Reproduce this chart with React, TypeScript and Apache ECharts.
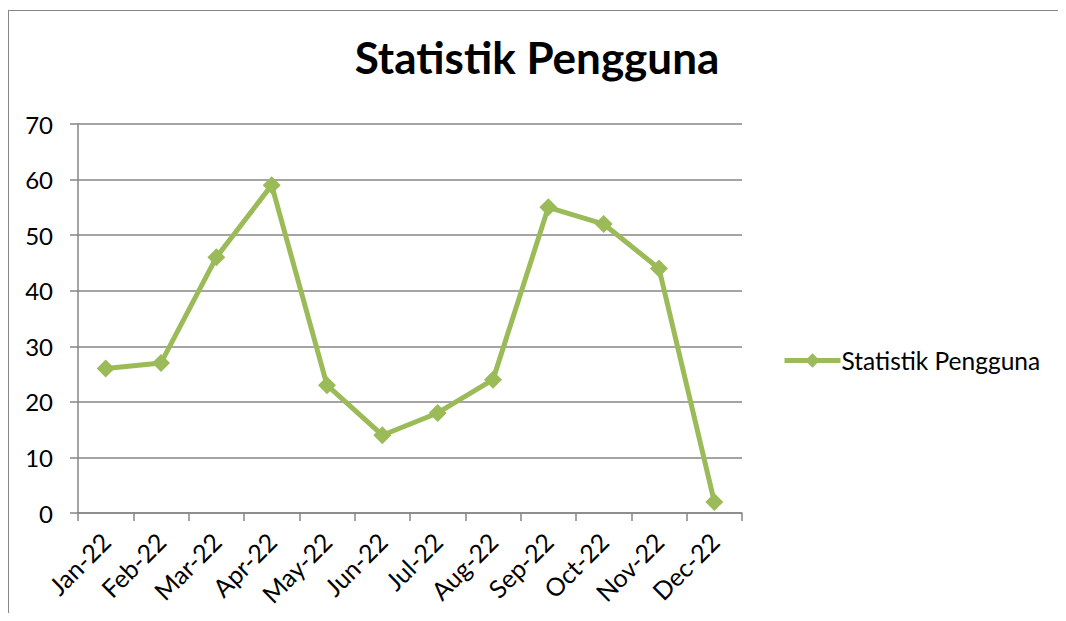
import React, { useEffect, useRef } from "react";
import * as echarts from "echarts";

const categories = ["Jan-22", "Feb-22", "Mar-22", "Apr-22", "May-22", "Jun-22", "Jul-22", "Aug-22", "Sep-22", "Oct-22", "Nov-22", "Dec-22"];
const values = [26, 27, 46, 59, 23, 14, 18, 24, 55, 52, 44, 2];
const seriesName = "Statistik Pengguna";
const titleText = "Statistik Pengguna";

const FONT = "Lato, 'Open Sans', sans-serif";
const AXIS = "#868686";

export default function App() {
  const ref = useRef<HTMLDivElement>(null);
  useEffect(() => {
    const chart = echarts.init(ref.current!, null, { renderer: "svg" });
    chart.setOption({
      animation: false,
      backgroundColor: "transparent",
      textStyle: { fontFamily: FONT },
      title: {
        text: titleText,
        left: "center",
        top: 27,
        padding: 0,
        textStyle: { fontFamily: FONT, fontSize: 44, fontWeight: "bold", color: "#000" },
      },
      legend: {
        left: 774,
        top: 340,
        padding: 0,
        itemWidth: 56,
        itemHeight: 18,
        lineStyle: { width: 5 },
        textStyle: { fontFamily: FONT, fontSize: 24.5, color: "#000", padding: [0, 0, 0, -4] },
        data: [seriesName],
      },
      grid: { left: 70, top: 116, width: 664, height: 389, containLabel: false },
      xAxis: {
        type: "category",
        data: categories,
        boundaryGap: true,
        axisLine: { lineStyle: { color: AXIS, width: 1.5 } },
        axisTick: { show: true, length: 8, alignWithLabel: false, lineStyle: { color: AXIS, width: 1.5 } },
        axisLabel: { rotate: 45, margin: 24, fontFamily: FONT, fontSize: 25, color: "#000", interval: 0 },
        splitLine: { show: false },
      },
      yAxis: {
        type: "value",
        min: 0,
        max: 70,
        interval: 10,
        axisLine: { show: true, lineStyle: { color: AXIS, width: 1.5 } },
        axisTick: { show: true, length: 8, lineStyle: { color: AXIS, width: 1.5 } },
        axisLabel: { margin: 25, fontFamily: FONT, fontSize: 24, color: "#000" },
        splitLine: { show: true, lineStyle: { color: AXIS, width: 1.5 } },
      },
      series: [
        {
          name: seriesName,
          type: "line",
          data: values,
          color: "#9BBB59",
          lineStyle: { width: 5, color: "#9BBB59" },
          symbol: "diamond",
          symbolSize: 18,
          itemStyle: { color: "#9BBB59" },
        },
      ],
    });
    return () => chart.dispose();
  }, []);
  return (
    <div style={{ position: "relative", width: 1058, height: 613, marginBottom: -8, overflow: "hidden", background: "#fff" }}>
      <div
        style={{
          position: "absolute",
          left: 0,
          top: 2,
          width: 3000,
          height: 3000,
          borderLeft: `1.5px solid ${AXIS}`,
          borderTop: `1.5px solid ${AXIS}`,
          pointerEvents: "none",
        }}
      />
      <div ref={ref} style={{ position: "absolute", left: 0, top: 0, width: 1058, height: 605 }} />
    </div>
  );
}
